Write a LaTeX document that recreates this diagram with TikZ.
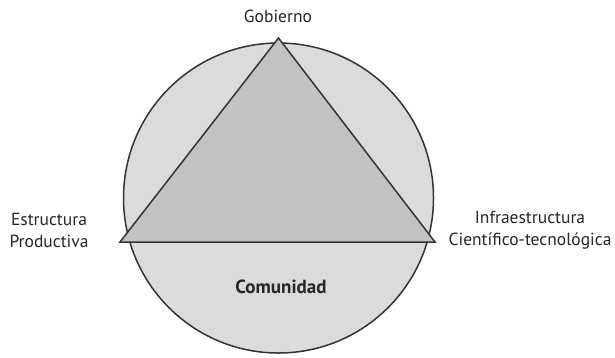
\documentclass[tikz,border=0pt]{standalone}
\usepackage{fontspec}
\setmainfont{PT Sans}
\begin{document}
\begin{tikzpicture}[x=1pt,y=-1pt,
  edge/.style={draw=black!80, line width=1.5pt},
  lbl/.style={text=black!85, font=\fontsize{17.5}{22}\selectfont, align=center, inner sep=0pt}]
\useasboundingbox (0,0) rectangle (615,357);
\coordinate (c) at (278.5,198);
\filldraw[edge, fill=black!14] (c) circle[radius=155];
\coordinate (top) at (278.5,38);
\coordinate (left) at (120,242);
\coordinate (right) at (435,242);
\filldraw[edge, fill=black!24, line join=miter] (top) -- (right) -- (left) -- cycle;
\node[lbl, anchor=base] (gob) at (278,22) {Gobierno};
\node[lbl] (est) at (49,230) {Estructura\\Productiva};
\node[lbl] (inf) at (530,230) {Infraestructura\\Científico-tecnológica};
\node[lbl, anchor=base, font=\fontsize{19}{22}\selectfont\bfseries] (com) at (281,293) {Comunidad};
\end{tikzpicture}
\end{document}
